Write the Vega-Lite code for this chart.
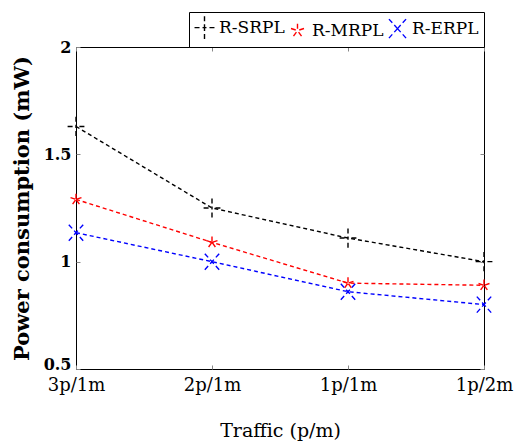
{
  "$schema": "https://vega.github.io/schema/vega-lite/v6.json",
  "autosize": {"type": "none"},
  "padding": {"left": 76, "top": 47, "right": 32, "bottom": 75},
  "width": 408,
  "height": 322,
  "data": {
    "values": [
      {"traffic": "3p/1m", "method": "R-SRPL", "power": 1.63},
      {"traffic": "2p/1m", "method": "R-SRPL", "power": 1.25},
      {"traffic": "1p/1m", "method": "R-SRPL", "power": 1.11},
      {"traffic": "1p/2m", "method": "R-SRPL", "power": 1.0},
      {"traffic": "3p/1m", "method": "R-MRPL", "power": 1.29},
      {"traffic": "2p/1m", "method": "R-MRPL", "power": 1.09},
      {"traffic": "1p/1m", "method": "R-MRPL", "power": 0.9},
      {"traffic": "1p/2m", "method": "R-MRPL", "power": 0.89},
      {"traffic": "3p/1m", "method": "R-ERPL", "power": 1.135},
      {"traffic": "2p/1m", "method": "R-ERPL", "power": 1.0},
      {"traffic": "1p/1m", "method": "R-ERPL", "power": 0.86},
      {"traffic": "1p/2m", "method": "R-ERPL", "power": 0.8}
    ]
  },
  "config": {
    "font": "DejaVu Serif",
    "view": {"stroke": "black", "strokeWidth": 1},
    "axis": {
      "domain": false,
      "grid": false,
      "tickColor": "#888888",
      "tickWidth": 1,
      "tickSize": -4,
      "labelColor": "black",
      "titleColor": "black",
      "labelFont": "DejaVu Serif",
      "titleFont": "DejaVu Serif"
    },
    "legend": {
      "orient": "none",
      "legendX": 113,
      "legendY": -35,
      "direction": "horizontal",
      "title": null,
      "padding": 5,
      "strokeColor": "black",
      "fillColor": "white",
      "cornerRadius": 0,
      "columnPadding": 2,
      "labelOffset": 4,
      "labelFont": "DejaVu Serif",
      "labelFontSize": 17,
      "labelColor": "black",
      "symbolSize": 361,
      "symbolStrokeWidth": 1.4
    }
  },
  "layer": [
    {
      "mark": {"type": "line", "strokeDash": [4, 3], "strokeWidth": 1.4},
      "encoding": {
        "x": {
          "field": "traffic",
          "type": "ordinal",
          "sort": ["3p/1m", "2p/1m", "1p/1m", "1p/2m"],
          "scale": {"type": "point", "padding": 0},
          "axis": {
            "orient": "bottom",
            "title": "Traffic (p/m)",
            "labelAngle": 0,
            "labelFontSize": 18,
            "labelPadding": 11,
            "titleFontSize": 19,
            "titleFontWeight": "normal",
            "titleX": 204,
            "titleY": 61,
            "titleAlign": "center",
            "titleBaseline": "middle"
          }
        },
        "y": {
          "field": "power",
          "type": "quantitative",
          "scale": {"domain": [0.5, 2], "nice": false, "zero": false},
          "axis": {
            "orient": "left",
            "values": [0.5, 1, 1.5, 2],
            "format": ".1~f",
            "title": "Power consumption (mW)",
            "labelFontSize": 16,
            "labelFontWeight": "bold",
            "labelPadding": 9,
            "labelOffset": {"condition": {"test": "datum.value === 0.5", "value": -5}, "value": 0},
            "titleFontSize": 21,
            "titleFontWeight": "bold",
            "titleAngle": 270,
            "titleX": -54,
            "titleY": 161,
            "titleAlign": "center",
            "titleBaseline": "middle"
          }
        },
        "color": {
          "field": "method",
          "type": "nominal",
          "scale": {"domain": ["R-SRPL", "R-MRPL", "R-ERPL"], "range": ["#000000", "#ff0000", "#0000ff"]},
          "legend": {
            "encode": {
              "symbols": {
                "update": {
                  "shape": {"signal": "datum.value === 'R-SRPL' ? 'M-1,0L-0.65,0M1,0L0.65,0M-0.55,0L0,0M0.55,0L0,0M0,-0.55L0,0M0,0.55L0,0' : datum.value === 'R-MRPL' ? 'M-1,0L-0.6,0M1,0L0.6,0M0,-0.5L0,0M0.476,-0.155L0,0M0.294,0.405L0,0M-0.294,0.405L0,0M-0.476,-0.155L0,0' : 'M-1,0L-0.6,0M1,0L0.6,0M-0.45,-0.45L0,0M0.45,0.45L0,0M-0.45,0.45L0,0M0.45,-0.45L0,0'"},
                  "fill": {"value": "transparent"},
                  "strokeDash": {"value": [5, 3]},
                  "strokeWidth": {"value": 1.4}
                }
              }
            }
          }
        }
      }
    },
    {
      "mark": {"type": "point", "filled": false, "opacity": 1, "strokeDash": [5, 3], "strokeWidth": 1.4, "size": 256},
      "encoding": {
        "x": {"field": "traffic", "type": "ordinal", "sort": ["3p/1m", "2p/1m", "1p/1m", "1p/2m"], "axis": null},
        "y": {"field": "power", "type": "quantitative", "axis": null},
        "color": {"field": "method", "type": "nominal"},
        "shape": {
          "field": "method",
          "type": "nominal",
          "scale": {
            "domain": ["R-SRPL", "R-MRPL", "R-ERPL"],
            "range": [
              "M-1.05,0L0,0M1.05,0L0,0M0,-1.2L0,0M0,1.2L0,0",
              "M0,-0.72L0,0M0.685,-0.222L0,0M0.423,0.582L0,0M-0.423,0.582L0,0M-0.685,-0.222L0,0",
              "M-0.9,-1L0,0M0.9,1L0,0M-0.9,1L0,0M0.9,-1L0,0"
            ]
          },
          "legend": null
        }
      }
    },
    {
      "mark": {"type": "point", "opacity": 0},
      "encoding": {
        "x": {
          "field": "traffic",
          "type": "ordinal",
          "sort": ["3p/1m", "2p/1m", "1p/1m", "1p/2m"],
          "axis": {"orient": "top", "labels": false, "title": null}
        },
        "y": {
          "field": "power",
          "type": "quantitative",
          "axis": {"orient": "right", "values": [0.5, 1, 1.5, 2], "labels": false, "title": null}
        }
      }
    }
  ],
  "resolve": {"axis": {"x": "independent", "y": "independent"}}
}
